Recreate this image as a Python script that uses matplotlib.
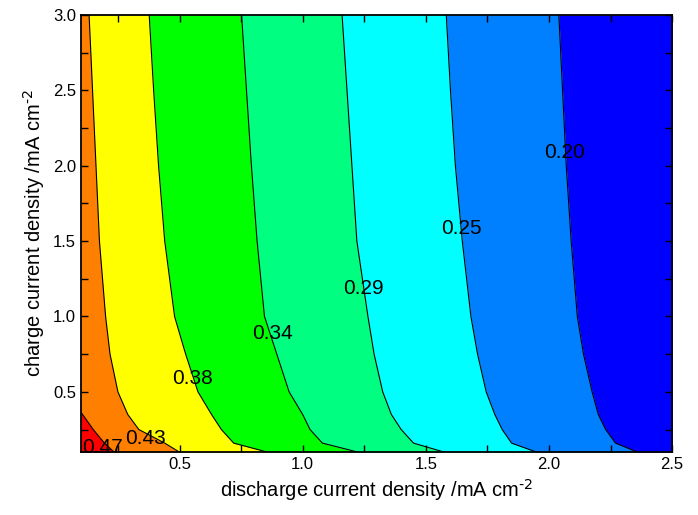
import numpy as np
import matplotlib
matplotlib.use("Agg")
import matplotlib.pyplot as plt
from matplotlib.ticker import MultipleLocator

plt.rcParams['font.family'] = ['Liberation Sans', 'DejaVu Sans']
plt.rcParams['mathtext.default'] = 'regular'

# charge current density (y) at which the boundaries were read
y_pts = [0.1, 0.16, 0.25, 0.35, 0.5, 0.75, 1.0, 1.5, 2.0, 2.5, 3.0]

# discharge current density (x) of each contour line at y_pts
x_043 = [0.50, 0.44, 0.335, 0.29, 0.25, 0.218, 0.20, 0.175, 0.161, 0.147, 0.133]
x_038 = [0.858, 0.72, 0.67, 0.63, 0.575, 0.525, 0.48, 0.44, 0.415, 0.395, 0.377]
x_034 = [1.225, 1.08, 1.03, 1.00, 0.945, 0.895, 0.845, 0.815, 0.792, 0.772, 0.752]
x_029 = [1.575, 1.45, 1.40, 1.36, 1.325, 1.29, 1.265, 1.22, 1.20, 1.18, 1.16]
x_025 = [1.95, 1.848, 1.81, 1.78, 1.745, 1.71, 1.683, 1.648, 1.62, 1.60, 1.583]
x_020 = [2.36, 2.27, 2.23, 2.20, 2.175, 2.14, 2.115, 2.09, 2.07, 2.055, 2.04]

# the 0.47 line only exists in the bottom-left corner
y_047 = [0.1, 0.16, 0.25, 0.365]
x_047 = [0.235, 0.195, 0.15, 0.1]

levels = ['0.47', '0.43', '0.38', '0.34', '0.29', '0.25', '0.20']
label_x = [0.186, 0.36, 0.552, 0.878, 1.245, 1.645, 2.064]
label_y = [0.133, 0.193, 0.59, 0.89, 1.188, 1.586, 2.09]

colors = ['#ff0000', '#ff8000', '#ffff00', '#00ff00', '#00ff80',
          '#00ffff', '#0080ff', '#0000ff']

xmin, xmax = 0.1, 2.5
ymin, ymax = 0.1, 3.0

fig = plt.figure(figsize=(6.98, 5.15), dpi=100)
ax = fig.add_axes([0.116, 0.122, 0.847, 0.849])

y = np.array(y_pts)
lines = [x_043, x_038, x_034, x_029, x_025, x_020]
left = np.full(len(y), xmin)
# orange band from left edge to 0.43 line (red drawn on top)
bands = [left] + [np.array(l) for l in lines] + [np.full(len(y), xmax)]
for i in range(len(bands) - 1):
    ax.fill_betweenx(y, bands[i], bands[i + 1], color=colors[i + 1], lw=0)
ax.fill_betweenx(y_047, np.full(len(y_047), xmin), x_047, color=colors[0], lw=0)

for l in lines:
    ax.plot(l, y, color='k', lw=0.8)
ax.plot(x_047, y_047, color='k', lw=0.8)

for t, lx, ly in zip(levels, label_x, label_y):
    ax.text(lx, ly, t, fontsize=15, ha='center', va='center')

ax.set_xlim(xmin, xmax)
ax.set_ylim(ymin, ymax)
ax.xaxis.set_major_locator(MultipleLocator(0.5))
ax.xaxis.set_minor_locator(MultipleLocator(0.25))
ax.yaxis.set_major_locator(MultipleLocator(0.5))
ax.yaxis.set_minor_locator(MultipleLocator(0.25))
ax.tick_params(which='both', direction='in', top=True, right=True,
               length=5, width=1, labelsize=12)
for s in ax.spines.values():
    s.set_linewidth(1.3)

ax.set_xlabel(r'discharge current density /mA cm$^{\text{-2}}$', fontsize=14.5)
ax.set_ylabel(r'charge current density /mA cm$^{\text{-2}}$', fontsize=14.5)

fig.savefig('out.png', dpi=100)
